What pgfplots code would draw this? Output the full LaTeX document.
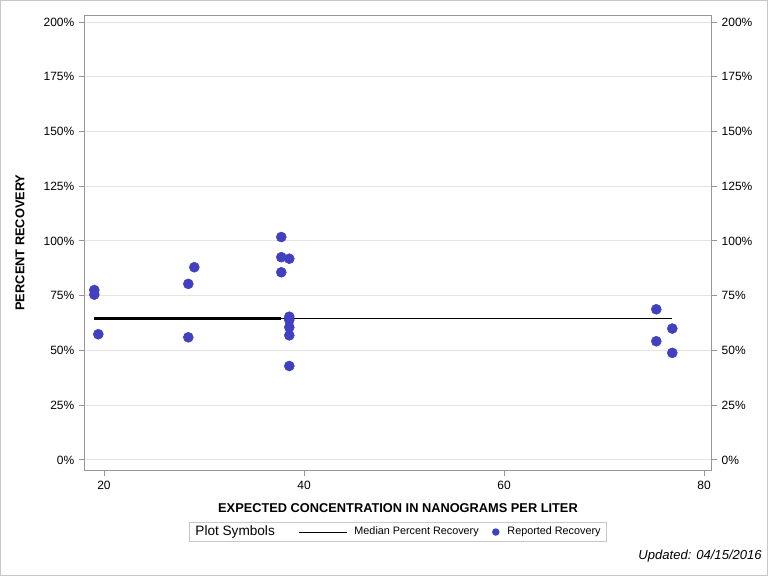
\documentclass[border=0pt]{standalone}
\usepackage{pgfplots}
\pgfplotsset{compat=1.18}
\usepackage{fontspec}
\setmainfont{Liberation Sans}

\definecolor{dotblue}{RGB}{64,64,192}
\definecolor{axgray}{RGB}{150,150,150}
\definecolor{gridgray}{RGB}{228,228,228}
\definecolor{framegray}{RGB}{200,200,200}

\begin{document}
\begin{tikzpicture}[x=1pt,y=1pt]
\useasboundingbox (0,0) rectangle (576,432);
\draw[framegray, line width=0.75pt] (0.375,0.375) rectangle (575.625,431.625);

\pgfplotsset{
  common/.style={
    at={(63.75pt,79.5pt)}, anchor=south west,
    scale only axis, width=469.5pt, height=341.25pt,
    xmin=18.1, xmax=80.7, ymin=-4.6, ymax=203.2,
    ytick={0,25,...,200},
    yticklabel={\pgfmathprintnumber[fixed,precision=0]{\tick}\%},
    /pgf/number format/assume math mode=true,
    ticklabel style={font=\fontsize{9}{10}\selectfont, text=black},
    tick align=outside, major tick length=4.5pt,
    tick style={axgray, line width=0.75pt},
    axis line style={axgray, line width=0.75pt},
  }
}

\begin{axis}[common,
  xtick={20,40,60,80},
  xtick pos=bottom, ytick pos=left,
  ymajorgrids, grid style={gridgray, line width=0.75pt},
  xlabel={EXPECTED CONCENTRATION IN NANOGRAMS PER LITER},
  ylabel={PERCENT RECOVERY},
  label style={font=\fontsize{9.6}{11}\selectfont\bfseries},
  xlabel style={at={(axis description cs:0.5,-0.0835)}, anchor=center},
  ylabel style={at={(axis description cs:-0.1038,0.5)}, anchor=center, rotate=0},
  legend style={at={(axis description cs:0.5,-0.1363)}, anchor=center,
    draw=framegray, line width=0.75pt, legend columns=-1,
    font=\fontsize{8.1}{9}\selectfont, inner xsep=2.5pt, inner ysep=1pt,
    /tikz/column 1/.style={column sep=0pt},
    /tikz/column 2/.style={column sep=16pt},
    /tikz/column 3/.style={column sep=3pt},
    /tikz/column 4/.style={column sep=8pt},
    /tikz/column 5/.style={column sep=4pt}},
]
\addlegendimage{empty legend}
\addlegendentry{\fontsize{10.2}{11}\selectfont Plot Symbols}

\addplot[black, line width=1.1pt,
  legend image code/.code={\draw[black, line width=0.75pt] (0pt,0pt) -- (36pt,0pt);}]
  coordinates {(37.73,64.7) (76.83,64.7)};
\addlegendentry{Median Percent Recovery}

\addplot[black, line width=2.3pt, forget plot]
  coordinates {(19.03,64.7) (37.73,64.7)};

\addplot[only marks, mark=*, mark size=3.75pt, dotblue,
  mark options={draw=dotblue, fill=dotblue},
  legend image code/.code={\fill[dotblue] (0pt,0pt) circle (2.4pt);}]
  coordinates {
    (19.03,77.6) (19.03,75.5) (19.43,57.4)
    (28.43,80.4) (28.43,56.0) (29.03,88.0)
    (37.73,101.8) (37.73,92.6) (37.73,85.7)
    (38.53,91.9) (38.53,65.4) (38.53,63.9) (38.53,60.6) (38.53,56.9) (38.53,42.9)
    (75.23,68.8) (75.23,54.2)
    (76.83,60.0) (76.83,48.9)
  };
\addlegendentry{Reported Recovery}
\end{axis}

\begin{axis}[common,
  axis x line=none, axis y line*=right,
  yticklabel pos=right, ytick pos=right,
]
\end{axis}

\node[anchor=east, inner sep=0pt, font=\fontsize{9.8}{11}\selectfont\itshape] at (571.5,15) {Updated: 04/15/2016};
\end{tikzpicture}
\end{document}
